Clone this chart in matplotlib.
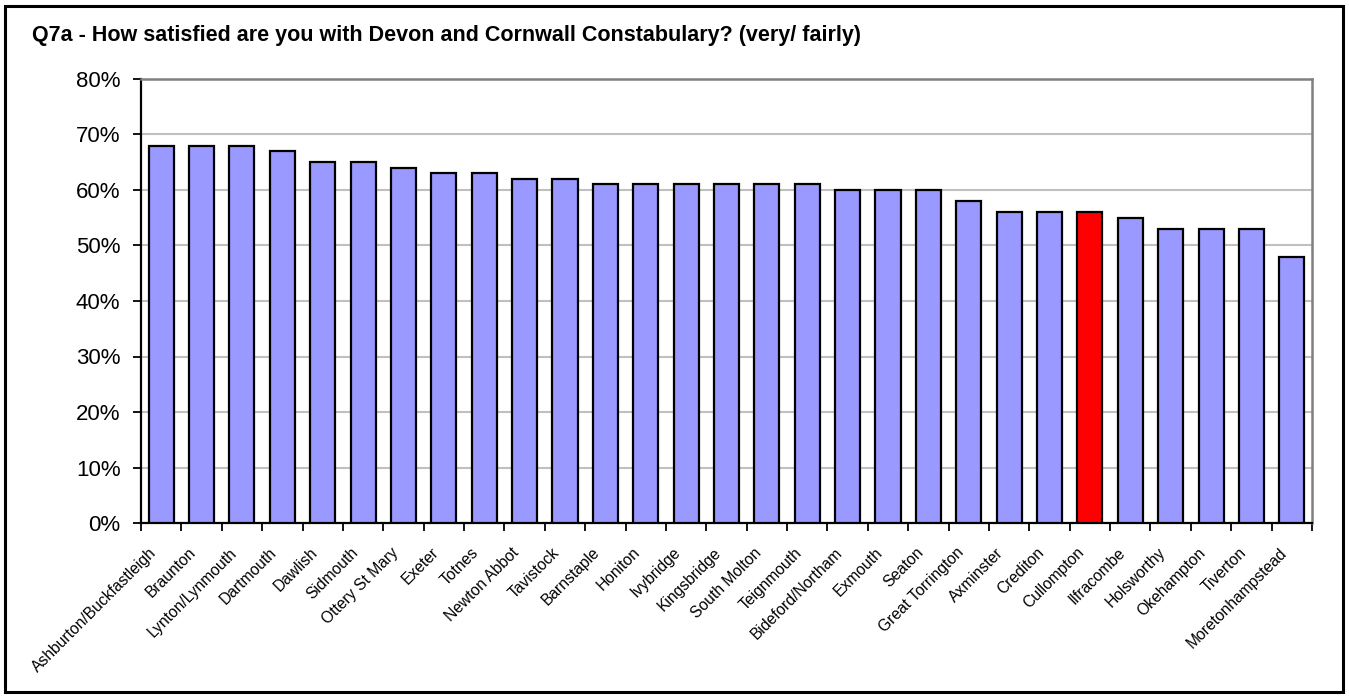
import matplotlib
matplotlib.use("Agg")
import matplotlib.pyplot as plt
from matplotlib.patches import Rectangle
from matplotlib.ticker import FixedLocator, FuncFormatter
from matplotlib.transforms import ScaledTranslation

plt.rcParams['font.family'] = ['Liberation Sans', 'DejaVu Sans']

categories = ["Ashburton/Buckfastleigh", "Braunton", "Lynton/Lynmouth", "Dartmouth", "Dawlish",
              "Sidmouth", "Ottery St Mary", "Exeter", "Totnes", "Newton Abbot", "Tavistock",
              "Barnstaple", "Honiton", "Ivybridge", "Kingsbridge", "South Molton", "Teignmouth",
              "Bideford/Northam", "Exmouth", "Seaton", "Great Torrington", "Axminster", "Crediton",
              "Cullompton", "Ilfracombe", "Holsworthy", "Okehampton", "Tiverton", "Moretonhampstead"]
values = [68, 68, 68, 67, 65, 65, 64, 63, 63, 62, 62, 61, 61, 61, 61, 61, 61,
          60, 60, 60, 58, 56, 56, 56, 55, 53, 53, 53, 48]
highlight = "Cullompton"
title = "Q7a - How satisfied are you with Devon and Cornwall Constabulary? (very/ fairly)"
yticks = [0, 10, 20, 30, 40, 50, 60, 70, 80]

W, H = 1349, 698
fig = plt.figure(figsize=(W / 100, H / 100), dpi=100)
fig.patch.set_facecolor('white')

# outer border
fig.patches.append(Rectangle((5 / W, 6 / H), 1338 / W, 686 / H, transform=fig.transFigure,
                             fill=False, edgecolor='black', linewidth=2.2, zorder=0))

ax = fig.add_axes([141 / W, 1 - 523 / H, (1312 - 141) / W, (523 - 79) / H])

x = list(range(len(categories)))
colors = ['#FF0000' if c == highlight else '#9999FF' for c in categories]
ax.bar(x, values, width=0.62, color=colors, edgecolor='black', linewidth=1.6, zorder=3)

ax.set_xlim(-0.5, len(categories) - 0.5)
ax.set_ylim(0, 80)
ax.set_yticks(yticks)
ax.yaxis.set_major_formatter(FuncFormatter(lambda v, p: f"{int(v)}%"))
ax.tick_params(axis='y', labelsize=16, length=6, width=1.3, direction='out', pad=8.8, colors='black')
ax.yaxis.grid(True, color='#C0C0C0', linewidth=1.5, zorder=0)
ax.set_axisbelow(True)

ax.set_xticks(x)
ax.set_xticklabels(categories, rotation=45, ha='right', va='top', rotation_mode='anchor', fontsize=11.25)
ax.tick_params(axis='x', which='major', length=0, pad=10)
ax.xaxis.set_minor_locator(FixedLocator([i - 0.5 for i in range(len(categories) + 1)]))
ax.tick_params(axis='x', which='minor', length=6, width=1.3, direction='out')
off = ScaledTranslation(-13 / 100, -8 / 100, fig.dpi_scale_trans)
for lbl in ax.get_xticklabels():
    lbl.set_transform(lbl.get_transform() + off)

for s in ['top', 'right']:
    ax.spines[s].set_color('#808080')
    ax.spines[s].set_linewidth(1.8)
for s in ['left', 'bottom']:
    ax.spines[s].set_color('black')
    ax.spines[s].set_linewidth(1.6)

fig.text(32 / W, 1 - 35 / H, title, fontsize=15.5, fontweight='bold', ha='left', va='center')

fig.savefig('out.png', dpi=100)
